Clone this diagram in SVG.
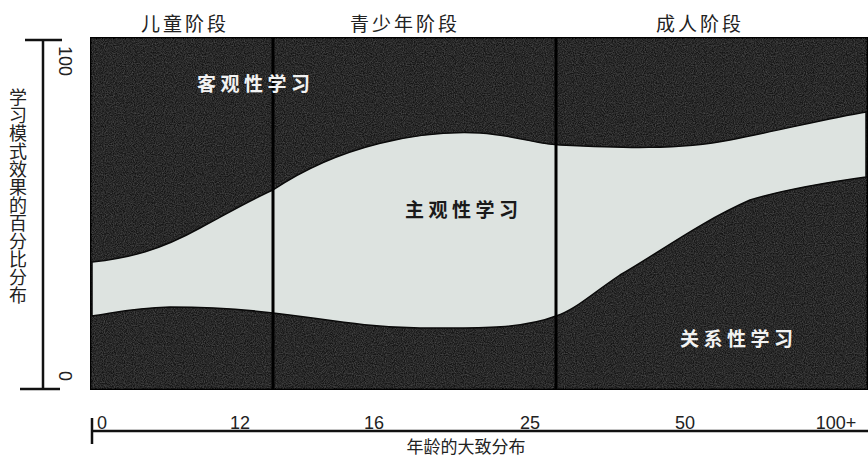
<svg xmlns="http://www.w3.org/2000/svg" width="868" height="458" viewBox="0 0 868 458">
<defs>
<style>
.lbl{font-family:"Noto Sans CJK SC","Liberation Sans",sans-serif;font-size:19px;fill:#222;letter-spacing:3px}
.vt{font-family:"Noto Sans CJK SC",sans-serif;font-size:18px;fill:#222;writing-mode:vertical-rl}
.num{font-family:"Liberation Sans",sans-serif;font-size:18px;fill:#222}
.in{font-family:"Noto Sans CJK SC",sans-serif;font-size:19px;font-weight:bold;letter-spacing:4.5px}
.ax{stroke:#111;stroke-width:2.5;fill:none}
</style>
<filter id="grain" x="0" y="0" width="100%" height="100%">
<feTurbulence type="fractalNoise" baseFrequency="0.9" numOctaves="2" seed="3" result="n"/>
<feColorMatrix in="n" type="matrix" values="0 0 0 0 0.35  0 0 0 0 0.35  0 0 0 0 0.35  0 0 0 0.6 -0.15" result="g"/>
<feComposite in="g" in2="SourceGraphic" operator="in"/>
</filter>
</defs>
<rect width="868" height="458" fill="#fff"/>
<g id="chart">
<rect x="91" y="38" width="776" height="351" fill="#141414" stroke="#000" stroke-width="2"/>
<rect x="91" y="38" width="776" height="351" fill="#000" filter="url(#grain)"/>
<path id="band" d="M92,262 C130,258 160,250 200,228 C230,212 250,200 273,190 C340,145 420,130 480,133 C520,136 540,145 560,145 C620,148 680,150 730,140 C790,128 830,118 866,112 L866,177 C830,182 790,188 750,200 C700,222 660,252 620,275 C590,295 575,310 556,316 C520,330 470,328 420,328 C360,327 320,318 273,313 C240,309 210,307 170,307 C130,308 110,314 92,316 Z" fill="#dde3e0" stroke="#0a0a0a" stroke-width="1.5"/>
<line x1="273" y1="38" x2="273" y2="389" stroke="#000" stroke-width="3"/>
<line x1="556" y1="38" x2="556" y2="389" stroke="#000" stroke-width="3"/>
</g>
<g id="obj"><text class="in" x="197" y="91" fill="#f2f2f2">客观性学习</text></g>
<g id="subj"><text class="in" x="405" y="217" fill="#1a1a1a">主观性学习</text></g>
<g id="rel"><text class="in" x="680" y="346" fill="#f2f2f2">关系性学习</text></g>
<g id="stages">
<text class="lbl" x="185" y="31" text-anchor="middle">儿童阶段</text>
<text class="lbl" x="405" y="31" text-anchor="middle">青少年阶段</text>
<text class="lbl" x="700" y="31" text-anchor="middle">成人阶段</text>
</g>
<g id="yaxis">
<path class="ax" d="M25,40 H62 M43,40 V389 M20,389 H60"/>
<text class="num" transform="translate(59,46) rotate(90)">100</text>
<text class="num" transform="translate(59,371) rotate(90)">0</text>
<text class="vt" x="18" y="88">学习模式效果的百分比分布</text>
</g>
<g id="xaxis">
<path class="ax" d="M92,418 V444 M92,431 H868"/>
<text class="num" x="97" y="429">0</text>
<text class="num" x="240" y="429" text-anchor="middle">12</text>
<text class="num" x="374" y="429" text-anchor="middle">16</text>
<text class="num" x="530" y="429" text-anchor="middle">25</text>
<text class="num" x="685" y="429" text-anchor="middle">50</text>
<text class="num" x="836" y="429" text-anchor="middle">100+</text>
<text class="lbl" x="466" y="453" text-anchor="middle" style="letter-spacing:0;font-size:17px">年龄的大致分布</text>
</g>
</svg>
